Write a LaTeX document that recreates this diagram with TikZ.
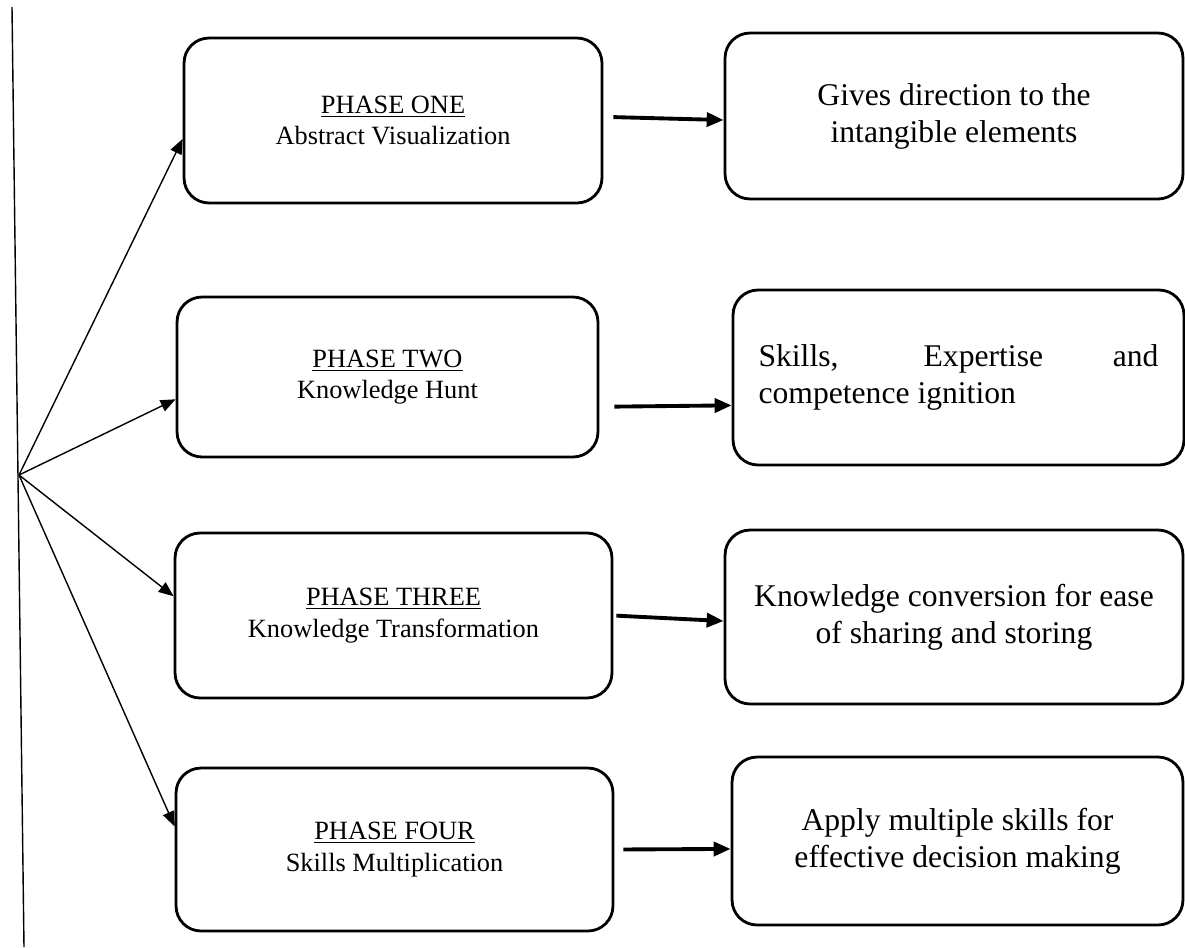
\documentclass[tikz,border=0pt]{standalone}
\usepackage{fontspec}
\setmainfont{Liberation Serif}
\usetikzlibrary{arrows.meta}

\begin{document}
\begin{tikzpicture}[x=0.02cm,y=-0.02cm,
  phase/.style={draw,rounded corners=0.5cm,line width=1.6pt,align=center,font=\fontsize{15}{18}\selectfont},
  result/.style={draw,rounded corners=0.5cm,line width=1.6pt,align=center,font=\fontsize{18}{21}\selectfont},
  fan/.style={line width=0.8pt,-{Triangle[length=0.3cm,width=0.24cm]}},
  link/.style={line width=2.2pt,-{Triangle[length=0.34cm,width=0.28cm]}}]
\useasboundingbox (0,0) rectangle (1185,947);

\node[phase,minimum width=8.36cm,minimum height=3.3cm] (p1) at (393,120.5) {\underline{PHASE ONE}\\Abstract Visualization};
\node[phase,minimum width=8.42cm,minimum height=3.2cm] (p2) at (387.5,377) {\underline{PHASE TWO}\\Knowledge Hunt};
\node[phase,minimum width=8.74cm,minimum height=3.3cm] (p3) at (393.5,615.5) {\underline{PHASE THREE}\\Knowledge Transformation};
\node[phase,minimum width=8.74cm,minimum height=3.26cm] (p4) at (394.5,849.5) {\underline{PHASE FOUR}\\Skills Multiplication};

\node[result,minimum width=9.16cm,minimum height=3.32cm] (r1) at (954,116) {Gives direction to the\\intangible elements};
\node[result,minimum width=9.02cm,minimum height=3.5cm,text width=8cm,align=justify] (r2) at (958.5,377.5) {Skills, Expertise and\linebreak competence ignition};
\node[result,minimum width=9.16cm,minimum height=3.48cm] (r3) at (954,617) {Knowledge conversion for ease\\of sharing and storing};
\node[result,minimum width=9.02cm,minimum height=3.36cm] (r4) at (957.5,841) {Apply multiple skills for\\effective decision making};

% spine and fan
\coordinate (top) at (12,7);
\coordinate (bot) at (24,947);
\coordinate (hub) at (19,475);
\draw[line width=0.8pt] (top)--(bot);

\draw[fan] (hub)--(p1.185);
\draw[fan] (hub)--(p2.186);
\draw[fan] (hub)--(p3.175);
\draw[fan] (hub)--(p4.174);

\draw[link,shorten <=0.2cm] (p1.1)--(r1.181);
\draw[link,shorten <=0.3cm] (p2.-8)--(r2.187);
\draw[link,shorten <=0.06cm] (p3.east)--(r3.181);
\draw[link,shorten <=0.18cm] (p4.east)--(r4.182);

\end{tikzpicture}
\end{document}
